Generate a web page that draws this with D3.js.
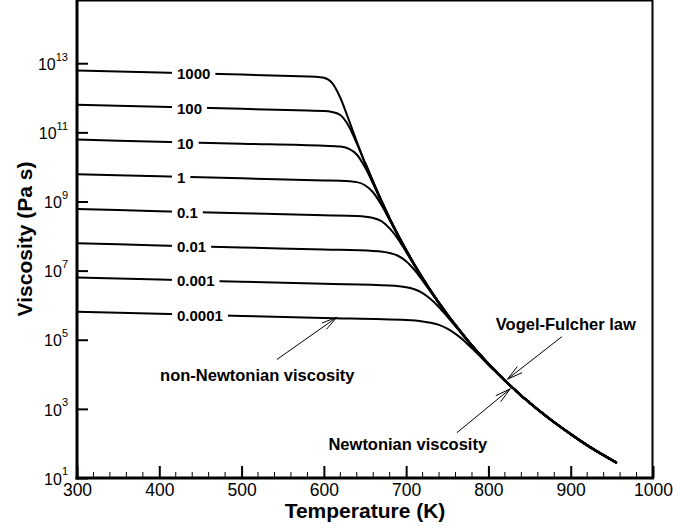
<!DOCTYPE html>
<html>
<head>
<meta charset="utf-8">
<script src="https://cdn.jsdelivr.net/npm/d3@7"></script>
<style>
  html, body { margin: 0; padding: 0; background: #fff; }
  svg { display: block; }
  text { font-family: "Liberation Sans", Arial, Helvetica, sans-serif; fill: #000; }
</style>
</head>
<body>
<svg id="chart" width="673" height="529"></svg>
<script>
// Strain-rate labels of the eight non-Newtonian curves (top to bottom)
const rateLabels = ["1000", "100", "10", "1", "0.1", "0.01", "0.001", "0.0001"];

// Viscosity curves: [temperature K, log10 viscosity Pa s]
const curve1000 = [[300,12.79],[400,12.73],[500,12.67],[560,12.63],[590,12.61],[600,12.58],[610,12.43],[620,12.00],[630,11.38],[640,10.73]];
const curve100 = [[300,11.80],[400,11.74],[500,11.68],[580,11.63],[600,11.62],[610,11.59],[620,11.50],[630,11.19],[640,10.68],[650,10.11]];
const curve10 = [[300,10.79],[400,10.73],[500,10.67],[600,10.61],[620,10.59],[630,10.53],[640,10.36],[650,9.99],[660,9.51],[670,9.00]];
const curve1 = [[300,9.79],[400,9.73],[500,9.67],[600,9.61],[620,9.60],[640,9.56],[650,9.47],[660,9.26],[670,8.90],[680,8.46],[690,8.02]];
const curve01 = [[300,8.78],[400,8.72],[500,8.66],[600,8.60],[640,8.58],[660,8.52],[670,8.43],[680,8.22],[690,7.92],[700,7.54],[710,7.15]];
const curve001 = [[300,7.79],[400,7.73],[500,7.67],[600,7.61],[660,7.57],[680,7.51],[690,7.43],[700,7.27],[710,7.02],[720,6.71],[730,6.38],[740,6.05]];
const curve0001 = [[300,6.80],[400,6.74],[500,6.68],[600,6.62],[680,6.57],[700,6.52],[710,6.46],[720,6.35],[730,6.17],[740,5.94],[750,5.67],[760,5.39],[770,5.10]];
const curve00001 = [[300,5.81],[400,5.75],[500,5.69],[600,5.63],[700,5.57],[720,5.53],[730,5.49],[740,5.43],[750,5.32],[760,5.17],[770,4.98],[780,4.75],[790,4.52],[800,4.27],[810,4.05]];

// Newtonian (Vogel-Fulcher) branch shared by all curves at high temperature
const vogelFulcher = [[650,10.12],[660,9.55],[670,9.01],[680,8.50],[690,8.03],[700,7.59],[710,7.17],[720,6.78],[730,6.41],[740,6.06],[750,5.73],[760,5.42],[770,5.12],[780,4.83],[790,4.56],[800,4.30],[810,4.06],[820,3.82],[830,3.60],[840,3.38],[850,3.18],[860,2.98],[875,2.70],[900,2.27],[925,1.87],[956,1.44]];

// Axis ticks
const xMajorTicks = [300, 400, 500, 600, 700, 800, 900, 1000];
const xMinorTicks = d3.range(300, 1001, 20).filter(v => v % 100 !== 0);
const yTickExponents = [1, 3, 5, 7, 9, 11, 13];

// Annotations: text anchor and arrow (tail -> head), in [K, log10 Pa s]
const noteTexts = ["non-Newtonian viscosity", "Vogel-Fulcher law", "Newtonian viscosity"];
const noteAnchors = [[401, 3.82], [809, 5.28], [605.6, 1.81]];
const noteArrows = [
  [[543, 4.43], [615.8, 5.65]],
  [[889.3, 5.09], [823.2, 3.86]],
  [[761.7, 2.31], [826.5, 3.58]]
];

const curves = [curve1000, curve100, curve10, curve1, curve01, curve001, curve0001, curve00001];

const svg = d3.select("#chart");
const W = 673, H = 529;
svg.append("rect").attr("width", W).attr("height", H).attr("fill", "#fff");

const x = d3.scaleLinear().domain([300, 1000]).range([77, 653]);
const y = d3.scaleLog().domain([1e1, Math.pow(10, 14.8)]).range([478, 1]);
const yl = v => y(Math.pow(10, v));

const line = d3.line()
  .x(d => x(d[0]))
  .y(d => yl(d[1]))
  .curve(d3.curveMonotoneX);

// Each curve continues along the Newtonian branch once it has merged
const fullCurves = curves.map(c => {
  const lastT = c[c.length - 1][0];
  return c.concat(vogelFulcher.filter(p => p[0] > lastT));
});

const plot = svg.append("g");

plot.selectAll("path.visc")
  .data(fullCurves)
  .join("path")
  .attr("class", "visc")
  .attr("d", line)
  .attr("fill", "none")
  .attr("stroke", "#000")
  .attr("stroke-width", 2)
  .attr("stroke-linejoin", "round");

plot.append("path")
  .attr("d", line(vogelFulcher))
  .attr("fill", "none")
  .attr("stroke", "#000")
  .attr("stroke-width", 2.6);

// Curve labels sitting in a gap of each line
const labelT = 421.5;
function valueAt(c, t) {
  for (let i = 0; i < c.length - 1; i++) {
    if (t >= c[i][0] && t <= c[i + 1][0]) {
      const f = (t - c[i][0]) / (c[i + 1][0] - c[i][0]);
      return c[i][1] + f * (c[i + 1][1] - c[i][1]);
    }
  }
  return c[0][1];
}
const labelG = svg.append("g");
rateLabels.forEach((lab, i) => {
  const g = labelG.append("g");
  const cy = yl(valueAt(curves[i], labelT + 20));
  const t = g.append("text")
    .attr("x", x(labelT))
    .attr("y", cy + 6)
    .attr("font-size", 15)
    .attr("font-weight", "bold")
    .text(lab);
  const bb = t.node().getBBox();
  g.insert("rect", "text")
    .attr("x", bb.x - 5)
    .attr("y", bb.y)
    .attr("width", bb.width + 10)
    .attr("height", bb.height)
    .attr("fill", "#fff");
});

// Frame
svg.append("line").attr("x1", 77).attr("x2", 653).attr("y1", 0.75).attr("y2", 0.75)
  .attr("stroke", "#000").attr("stroke-width", 1.5);
svg.append("line").attr("x1", 652.5).attr("x2", 652.5).attr("y1", 0).attr("y2", 478)
  .attr("stroke", "#000").attr("stroke-width", 2);

// X axis: inward major and minor ticks
const xAxis = d3.axisBottom(x).tickValues(xMajorTicks).tickSize(-12).tickPadding(6).tickFormat(d3.format("d"));
const gx = svg.append("g").attr("transform", "translate(0,478)").call(xAxis);
gx.select(".domain").remove();
gx.selectAll(".tick line").attr("stroke", "#000").attr("stroke-width", 2);
gx.selectAll(".tick text").attr("font-size", 17.5).attr("font-family", "Liberation Sans, Arial, sans-serif").attr("fill", "#000");
svg.append("g").selectAll("line")
  .data(xMinorTicks)
  .join("line")
  .attr("x1", d => x(d)).attr("x2", d => x(d))
  .attr("y1", 478).attr("y2", 472)
  .attr("stroke", "#000").attr("stroke-width", 1);

// Y axis: ticks every two decades with power-of-ten labels
const yAxis = d3.axisLeft(y).tickValues(yTickExponents.map(e => Math.pow(10, e))).tickSize(-11).tickFormat("");
const gy = svg.append("g").attr("transform", "translate(77,0)").call(yAxis);
gy.select(".domain").remove();
gy.selectAll(".tick line").attr("stroke", "#000").attr("stroke-width", 2);
const yLab = svg.append("g").selectAll("text")
  .data(yTickExponents)
  .join("text")
  .attr("x", 68)
  .attr("y", e => yl(e) + 6.7)
  .attr("text-anchor", "end")
  .attr("font-size", 16);
yLab.append("tspan").text("10");
yLab.append("tspan").attr("dy", -9.3).attr("font-size", 11).text(e => e);

// Axis lines (heavier left and bottom)
svg.append("line").attr("x1", 77).attr("x2", 77).attr("y1", 0).attr("y2", 479.5)
  .attr("stroke", "#000").attr("stroke-width", 3);
svg.append("line").attr("x1", 75.5).attr("x2", 654).attr("y1", 478).attr("y2", 478)
  .attr("stroke", "#000").attr("stroke-width", 3);

// Axis titles
svg.append("text")
  .attr("x", 365).attr("y", 518)
  .attr("text-anchor", "middle")
  .attr("font-size", 21).attr("font-weight", "bold")
  .text("Temperature (K)");
svg.append("text")
  .attr("transform", "translate(32,239) rotate(-90)")
  .attr("text-anchor", "middle")
  .attr("font-size", 21).attr("font-weight", "bold")
  .text("Viscosity (Pa s)");

// Annotations
const ann = svg.append("g");
noteTexts.forEach((txt, i) => {
  ann.append("text")
    .attr("x", x(noteAnchors[i][0]))
    .attr("y", yl(noteAnchors[i][1]))
    .attr("font-size", 16.5).attr("font-weight", "bold")
    .text(txt);
  const [tail, head] = noteArrows[i];
  const x0 = x(tail[0]), y0 = yl(tail[1]), x1 = x(head[0]), y1 = yl(head[1]);
  const ang = Math.atan2(y0 - y1, x0 - x1);
  const len = 16, spread = 14 * Math.PI / 180;
  const b1 = [x1 + len * Math.cos(ang + spread), y1 + len * Math.sin(ang + spread)];
  const b2 = [x1 + len * Math.cos(ang - spread), y1 + len * Math.sin(ang - spread)];
  ann.append("path")
    .attr("d", `M${x0},${y0}L${x1},${y1}M${b1[0]},${b1[1]}L${x1},${y1}L${b2[0]},${b2[1]}`)
    .attr("fill", "none")
    .attr("stroke", "#000")
    .attr("stroke-width", 1);
});
</script>
</body>
</html>
